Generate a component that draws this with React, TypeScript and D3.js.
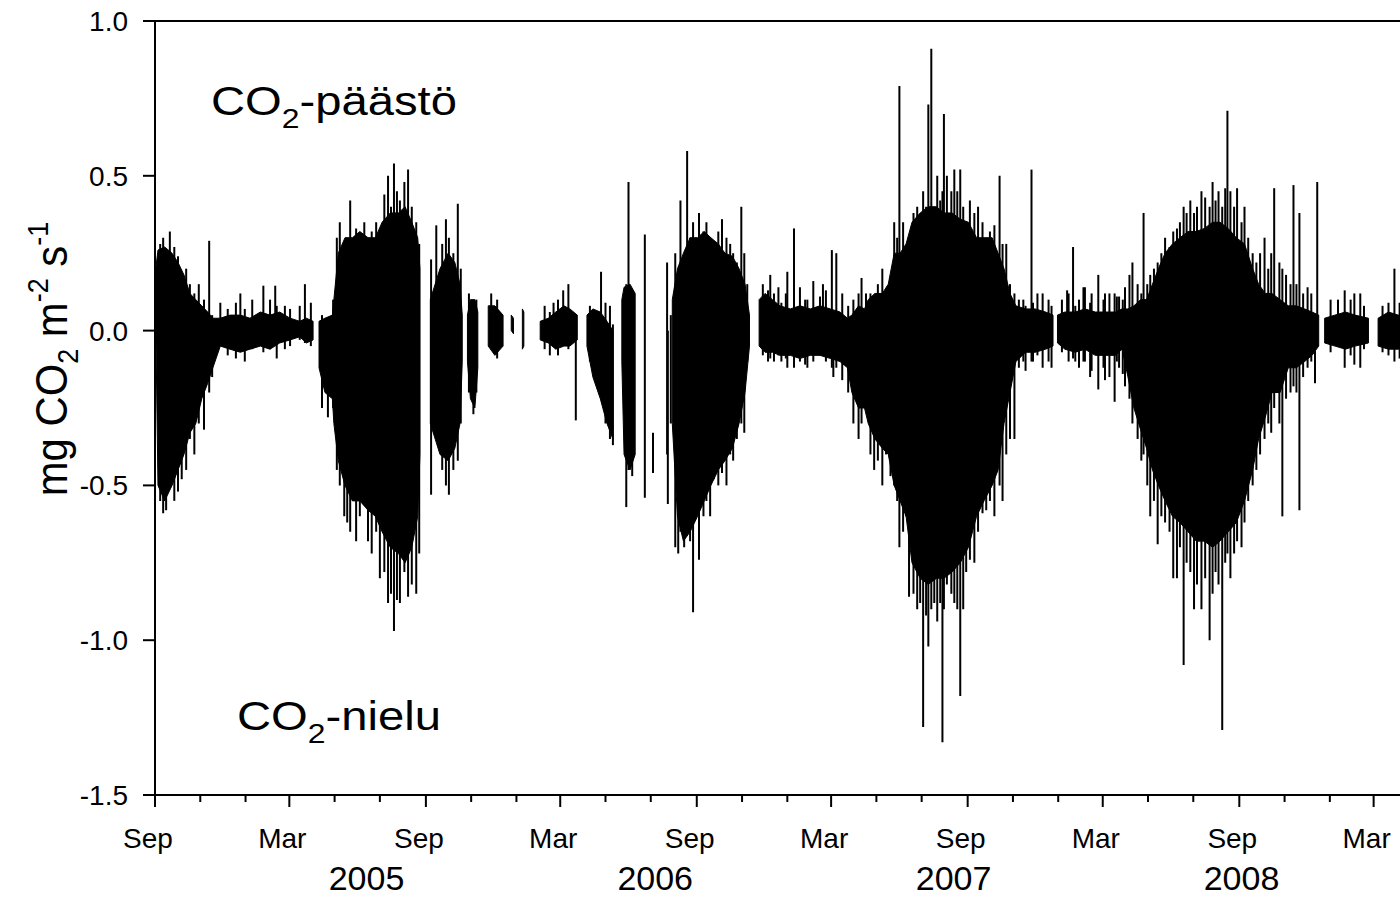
import React from "react";
import * as d3 from "d3";

// Time axis: days counted from 1 Sep 2004
const START = Date.UTC(2004, 8, 1);
const END = Date.UTC(2009, 3, 19);
const dayToDate = (d: number) => new Date(START + d * 86400000);

const yTicks = [1.0, 0.5, 0.0, -0.5, -1.0, -1.5];
const yTickLabels = ["1.0", "0.5", "0.0", "-0.5", "-1.0", "-1.5"];
const majorMonths = [2, 8];
const monthNames: Record<number, string> = { 2: "Mar", 8: "Sep" };
const yearLabels: [string, string][] = [
  ["2005", "2005-06-13"],
  ["2006", "2006-07-07"],
  ["2007", "2007-08-13"],
  ["2008", "2008-09-04"],
];

// Dense core envelope of the half-hourly CO2 flux: [day, high, low]; null = data gap
type Pt = [number, number, number] | null;
const core2004: Pt[] = [
  [1, 0.2, 0.03], [4, 0.26, -0.5], [13, 0.27, -0.55], [23, 0.25, -0.5], [31, 0.22, -0.45],
  [39, 0.18, -0.4], [47, 0.12, -0.33], [55, 0.1, -0.3], [63, 0.08, -0.22], [71, 0.06, -0.17],
  [78, 0.04, -0.12], [88, 0.04, -0.05], [101, 0.05, -0.06], [115, 0.05, -0.07], [128, 0.04, -0.06],
  [142, 0.06, -0.05], [155, 0.05, -0.06], [168, 0.06, -0.04], [182, 0.04, -0.03], [195, 0.03, -0.02],
  [204, 0.04, -0.04], [213, 0.03, -0.03], null,
];
const core2005: Pt[] = [
  [221, 0.03, -0.12], [229, 0.04, -0.2], [239, 0.05, -0.22], [241, 0.1, -0.3], [247, 0.25, -0.42],
  [256, 0.3, -0.5], [266, 0.3, -0.55], [276, 0.32, -0.55], [287, 0.3, -0.58], [297, 0.3, -0.6],
  [306, 0.35, -0.65], [317, 0.38, -0.7], [328, 0.38, -0.72], [337, 0.4, -0.75], [346, 0.35, -0.7],
  [354, 0.3, -0.6], [357, 0.2, -0.4], null,
  [371, 0.1, -0.3], [384, 0.2, -0.4], [395, 0.25, -0.42], [404, 0.22, -0.38], [411, 0.15, -0.3],
  [414, 0.05, -0.1], null,
  [421, 0.05, -0.1], [425, 0.1, -0.22], [431, 0.1, -0.25], [435, 0.06, -0.12], null,
  [449, 0.08, -0.05], [458, 0.08, -0.08], [469, 0.05, -0.05], null,
  [480, 0.05, 0.0], [483, 0.04, -0.01], null,
  [495, 0.07, -0.06], [497, 0.06, -0.05], null,
];
const core2006: Pt[] = [
  [519, 0.03, -0.03], [530, 0.04, -0.04], [540, 0.06, -0.06], [551, 0.08, -0.05], [559, 0.07, -0.05],
  [569, 0.05, -0.03], null,
  [582, 0.05, -0.05], [590, 0.07, -0.15], [600, 0.06, -0.22], [609, 0.03, -0.3], [617, 0.0, -0.35], null,
  [629, 0.1, -0.1], [632, 0.14, -0.4], [640, 0.15, -0.45], [647, 0.12, -0.4], null,
  [697, 0.1, -0.3], [704, 0.2, -0.6], [712, 0.25, -0.68], [721, 0.3, -0.65], [731, 0.3, -0.6],
  [740, 0.32, -0.55], [749, 0.3, -0.5], [759, 0.28, -0.45], [768, 0.25, -0.42], [778, 0.24, -0.38],
  [787, 0.2, -0.3], [795, 0.15, -0.2], [801, 0.05, -0.05], null,
];
const core2007: Pt[] = [
  [814, 0.1, -0.05], [822, 0.12, -0.07], [832, 0.1, -0.07], [842, 0.08, -0.08], [856, 0.07, -0.08],
  [869, 0.08, -0.09], [883, 0.07, -0.08], [896, 0.08, -0.08], [910, 0.07, -0.09], [923, 0.06, -0.1],
  [933, 0.04, -0.12], [939, 0.05, -0.2], [948, 0.08, -0.25], [956, 0.07, -0.25], [961, 0.1, -0.3],
  [970, 0.12, -0.35], [980, 0.12, -0.38], [988, 0.15, -0.4], [996, 0.25, -0.5], [1004, 0.25, -0.55],
  [1012, 0.28, -0.6], [1020, 0.35, -0.75], [1031, 0.38, -0.8], [1042, 0.4, -0.82], [1053, 0.4, -0.8],
  [1063, 0.38, -0.8], [1074, 0.38, -0.78], [1085, 0.36, -0.75], [1096, 0.35, -0.7], [1107, 0.3, -0.6],
  [1117, 0.3, -0.55], [1128, 0.3, -0.5], [1136, 0.25, -0.45], [1144, 0.2, -0.3], [1152, 0.12, -0.2],
  [1160, 0.08, -0.1], [1173, 0.07, -0.07], [1186, 0.07, -0.07], [1200, 0.06, -0.06], [1210, 0.05, -0.05],
  null,
];
const core2008: Pt[] = [
  [1216, 0.05, -0.04], [1226, 0.06, -0.06], [1240, 0.06, -0.07], [1253, 0.07, -0.06], [1267, 0.06, -0.08],
  [1280, 0.06, -0.08], [1294, 0.06, -0.08], [1303, 0.07, -0.06], [1311, 0.07, -0.15], [1319, 0.08, -0.25],
  [1328, 0.1, -0.32], [1336, 0.1, -0.38], [1344, 0.15, -0.45], [1352, 0.2, -0.5], [1361, 0.25, -0.55],
  [1371, 0.28, -0.6], [1381, 0.3, -0.62], [1392, 0.32, -0.65], [1403, 0.32, -0.68], [1414, 0.33, -0.68],
  [1425, 0.35, -0.7], [1435, 0.35, -0.68], [1446, 0.33, -0.65], [1457, 0.3, -0.62], [1468, 0.28, -0.55],
  [1479, 0.2, -0.45], [1487, 0.15, -0.35], [1496, 0.12, -0.28], [1505, 0.12, -0.2], [1516, 0.1, -0.2],
  [1527, 0.08, -0.12], [1538, 0.08, -0.12], [1549, 0.07, -0.1], [1559, 0.06, -0.08], [1568, 0.05, -0.05],
  null,
  [1576, 0.04, -0.04], [1590, 0.05, -0.05], [1604, 0.06, -0.06], [1617, 0.05, -0.05], [1635, 0.04, -0.04],
  null,
  [1648, 0.04, -0.05], [1662, 0.06, -0.06], [1675, 0.05, -0.06], [1685, 0.05, -0.05],
];

// Individual extreme half-hour values: [day, high, low]
const spikes2004: [number, number, number][] = [
  [7, 0.28, -0.55], [11, 0.3, -0.59], [15, 0.25, -0.58], [20, 0.32, -0.5], [26, 0.27, -0.55],
  [31, 0.24, -0.52], [36, 0.15, -0.48], [42, 0.2, -0.45], [47, 0.15, -0.35], [53, 0.12, -0.4],
  [59, 0.15, -0.3], [66, 0.1, -0.32], [73, 0.29, -0.2], [77, 0.05, -0.15],
  [88, 0.09, -0.04], [98, 0.07, -0.08], [109, 0.09, -0.09], [115, 0.12, -0.06], [121, 0.07, -0.1],
  [131, 0.1, -0.06], [146, 0.145, -0.07], [155, 0.1, -0.06], [162, 0.145, -0.05], [164, 0.08, -0.09],
  [175, 0.08, -0.06], [182, 0.07, -0.05], [195, 0.08, -0.03], [202, 0.15, -0.04], [210, 0.09, -0.05],
];
const spikes2005: [number, number, number][] = [
  [225, 0.05, -0.25], [233, 0.03, -0.28], [240, 0.1, -0.25], [245, 0.3, -0.45], [249, 0.35, -0.5],
  [255, 0.27, -0.6], [259, 0.3, -0.62], [263, 0.42, -0.65], [267, 0.3, -0.55], [271, 0.33, -0.68],
  [276, 0.28, -0.6], [282, 0.35, -0.52], [287, 0.3, -0.68], [292, 0.32, -0.72], [298, 0.35, -0.65],
  [303, 0.3, -0.8], [309, 0.44, -0.78], [314, 0.5, -0.88], [318, 0.4, -0.85], [322, 0.54, -0.97],
  [326, 0.45, -0.87], [330, 0.42, -0.88], [336, 0.48, -0.78], [341, 0.52, -0.86], [346, 0.4, -0.82],
  [352, 0.35, -0.85], [356, 0.28, -0.72],
  [372, 0.23, -0.53], [379, 0.34, -0.3], [387, 0.28, -0.45], [392, 0.36, -0.5], [396, 0.3, -0.53],
  [402, 0.25, -0.45], [408, 0.41, -0.42], [412, 0.2, -0.3],
  [423, 0.12, -0.2], [429, 0.08, -0.27], [433, 0.1, -0.2], [453, 0.12, -0.06], [461, 0.1, -0.09],
];
const spikes2006: [number, number, number][] = [
  [525, 0.08, -0.06], [532, 0.06, -0.08], [537, 0.09, -0.05],
  [543, 0.1, -0.08], [550, 0.13, -0.05], [557, 0.15, -0.06], [567, 0.05, -0.29],
  [586, 0.08, -0.1], [601, 0.19, -0.2], [607, 0.09, -0.3], [613, 0.08, -0.35], [617, 0.02, -0.37],
  [635, 0.15, -0.57], [638, 0.48, -0.45], [643, 0.13, -0.47],
  [660, 0.31, -0.54], [671, -0.33, -0.46], [690, 0.22, -0.4], [691, 0.0, -0.56], [695, 0.05, -0.3],
  [701, 0.25, -0.7], [705, 0.2, -0.72], [708, 0.42, -0.65], [713, 0.22, -0.7], [717, 0.58, -0.6],
  [721, 0.3, -0.68], [725, 0.35, -0.91], [729, 0.3, -0.6], [733, 0.38, -0.74], [739, 0.32, -0.6],
  [743, 0.35, -0.55], [748, 0.3, -0.6], [753, 0.28, -0.48], [759, 0.32, -0.5], [764, 0.36, -0.46],
  [770, 0.3, -0.5], [775, 0.28, -0.4], [779, 0.25, -0.42], [784, 0.22, -0.35], [790, 0.4, -0.3],
  [794, 0.25, -0.33], [798, 0.15, -0.1],
];
const spikes2007: [number, number, number][] = [
  [819, 0.15, -0.08], [826, 0.13, -0.1], [829, 0.18, -0.09], [834, 0.12, -0.1], [840, 0.14, -0.08],
  [844, 0.09, -0.1], [850, 0.12, -0.09], [852, 0.19, -0.12],
  [861, 0.33, -0.12], [869, 0.14, -0.1], [876, 0.1, -0.11], [879, 0.1, -0.12], [887, 0.16, -0.1],
  [896, 0.11, -0.08], [900, 0.15, -0.08], [904, 0.13, -0.1], [912, 0.26, -0.12], [914, 0.06, -0.15],
  [918, 0.25, -0.12], [926, 0.12, -0.16], [934, 0.08, -0.2],
  [941, 0.1, -0.3], [948, 0.12, -0.35], [952, 0.17, -0.3], [958, 0.12, -0.2], [964, 0.12, -0.4],
  [969, 0.1, -0.45], [974, 0.15, -0.42], [980, 0.2, -0.5], [985, 0.13, -0.4], [991, 0.17, -0.47],
  [996, 0.35, -0.5], [1000, 0.3, -0.55], [1003, 0.79, -0.7], [1008, 0.35, -0.65], [1012, 0.1, -0.6],
  [1016, 0.3, -0.86], [1022, 0.38, -0.85], [1027, 0.4, -0.9], [1031, 0.36, -0.88], [1035, 0.45, -1.28],
  [1039, 0.4, -0.92], [1042, 0.73, -1.02], [1046, 0.91, -0.9], [1050, 0.4, -0.88], [1054, 0.5, -0.94],
  [1058, 0.42, -0.88], [1061, 0.45, -1.33], [1063, 0.7, -0.9], [1067, 0.5, -0.82], [1073, 0.45, -0.85],
  [1077, 0.52, -0.88], [1081, 0.45, -0.9], [1085, 0.52, -1.18], [1089, 0.4, -0.9], [1093, 0.35, -0.78],
  [1098, 0.42, -0.74], [1104, 0.38, -0.75], [1109, 0.4, -0.65], [1115, 0.35, -0.59], [1120, 0.3, -0.58],
  [1125, 0.32, -0.55], [1131, 0.34, -0.6], [1138, 0.5, -0.5], [1142, 0.28, -0.55], [1147, 0.28, -0.4],
  [1152, 0.15, -0.35], [1158, 0.12, -0.35], [1164, 0.1, -0.12], [1170, 0.1, -0.1], [1173, 0.08, -0.13],
  [1181, 0.52, -0.1], [1183, 0.09, -0.1], [1189, 0.12, -0.08], [1196, 0.12, -0.12], [1204, 0.1, -0.1],
  [1208, 0.08, -0.12],
];
const spikes2008: [number, number, number][] = [
  [1222, 0.1, -0.07], [1229, 0.13, -0.06], [1231, 0.12, -0.1], [1237, 0.27, -0.09], [1240, 0.08, -0.1],
  [1245, 0.1, -0.12], [1251, 0.14, -0.1], [1253, 0.14, -0.1], [1260, 0.09, -0.15],
  [1262, 0.12, -0.13], [1271, 0.18, -0.19], [1278, 0.1, -0.12], [1280, 0.12, -0.16], [1286, 0.12, -0.15],
  [1293, 0.12, -0.23], [1296, 0.11, -0.1],
  [1299, 0.11, -0.12], [1304, 0.1, -0.14], [1307, 0.14, -0.18], [1313, 0.18, -0.22], [1317, 0.22, -0.3],
  [1324, 0.15, -0.35],
  [1329, 0.12, -0.42], [1332, 0.38, -0.4], [1337, 0.15, -0.5], [1341, 0.18, -0.6], [1346, 0.2, -0.55],
  [1351, 0.22, -0.69], [1356, 0.25, -0.6], [1361, 0.3, -0.62], [1367, 0.27, -0.65], [1372, 0.32, -0.8],
  [1377, 0.33, -0.8], [1381, 0.35, -0.7], [1386, 0.4, -1.08], [1390, 0.38, -0.75], [1395, 0.42, -0.78],
  [1400, 0.38, -0.9], [1404, 0.4, -0.82], [1410, 0.45, -0.9], [1415, 0.43, -0.8], [1421, 0.4, -1.0],
  [1425, 0.48, -0.85], [1429, 0.42, -0.78], [1433, 0.45, -0.82], [1438, 0.4, -1.29], [1442, 0.46, -0.75],
  [1445, 0.71, -0.72], [1449, 0.45, -0.8], [1454, 0.4, -0.72], [1458, 0.46, -0.68], [1464, 0.35, -0.7],
  [1468, 0.4, -0.62], [1473, 0.3, -0.55], [1479, 0.25, -0.5], [1484, 0.22, -0.45], [1489, 0.25, -0.4],
  [1495, 0.3, -0.35], [1500, 0.2, -0.3], [1504, 0.25, -0.33], [1508, 0.46, -0.25], [1515, 0.22, -0.3],
  [1519, 0.2, -0.6], [1524, 0.18, -0.22], [1530, 0.15, -0.2], [1534, 0.47, -0.18], [1538, 0.15, -0.2],
  [1542, 0.38, -0.58], [1547, 0.12, -0.15], [1553, 0.14, -0.12], [1558, 0.12, -0.1], [1563, 0.05, -0.17],
  [1566, 0.48, -0.05],
  [1584, 0.1, -0.07], [1594, 0.1, -0.05], [1603, 0.13, -0.12], [1611, 0.1, -0.08], [1616, 0.12, -0.11],
  [1624, 0.12, -0.12], [1629, 0.08, -0.06],
  [1654, 0.08, -0.07], [1662, 0.09, -0.08], [1670, 0.2, -0.1], [1677, 0.09, -0.09],
];

const FONT = "'Liberation Sans', Arial, Helvetica, sans-serif";

export default function App() {
  const W = 1400;
  const H = 902;
  const x = d3.scaleUtc().domain([new Date(START), new Date(END)]).range([155, 1410]);
  const y = d3.scaleLinear().domain([-1.5, 1.0]).range([795, 21]);

  const core = [...core2004, ...core2005, ...core2006, ...core2007, ...core2008];
  const spikes = [...spikes2004, ...spikes2005, ...spikes2006, ...spikes2007, ...spikes2008];

  const area = d3
    .area<Pt>()
    .defined((d) => d !== null)
    .x((d) => x(dayToDate((d as [number, number, number])[0])))
    .y0((d) => y((d as [number, number, number])[2]))
    .y1((d) => y((d as [number, number, number])[1]));

  const xTicks = d3.utcMonth.every(2)!.range(new Date(START), new Date(END));
  const x0 = 155;
  const yTop = y(1.0);
  const yBot = y(-1.5);

  return (
    <svg
      width={W}
      height={H}
      style={{ position: "absolute", left: 0, top: 0, background: "#fff" }}
      fontFamily={FONT}
    >
      <rect x={0} y={0} width={W} height={H} fill="#fff" />
      {/* data */}
      <path d={area(core) || ""} fill="#000" stroke="#000" strokeWidth={1} />
      {spikes.map((s, i) => (
        <line
          key={i}
          x1={x(dayToDate(s[0]))}
          x2={x(dayToDate(s[0]))}
          y1={y(s[1])}
          y2={y(s[2])}
          stroke="#000"
          strokeWidth={2}
        />
      ))}

      {/* frame */}
      <line x1={x0} x2={W} y1={yTop} y2={yTop} stroke="#000" strokeWidth={2} />
      <line x1={x0} x2={W} y1={yBot} y2={yBot} stroke="#000" strokeWidth={2} />
      <line x1={x0} x2={x0} y1={yTop} y2={yBot} stroke="#000" strokeWidth={2} />

      {/* y axis */}
      {yTicks.map((t, i) => (
        <g key={t}>
          <line x1={x0 - 12} x2={x0} y1={y(t)} y2={y(t)} stroke="#000" strokeWidth={2} />
          <text x={128} y={y(t) + 10} textAnchor="end" fontSize={28}>
            {yTickLabels[i]}
          </text>
        </g>
      ))}

      {/* x axis */}
      {xTicks.map((t) => {
        const m = t.getUTCMonth();
        const major = majorMonths.includes(m);
        const xx = x(t);
        return (
          <g key={t.getTime()}>
            <line x1={xx} x2={xx} y1={yBot} y2={yBot + (major ? 12 : 7)} stroke="#000" strokeWidth={2} />
            {major && (
              <text x={xx - 7} y={848} textAnchor="middle" fontSize={28}>
                {monthNames[m]}
              </text>
            )}
          </g>
        );
      })}
      {yearLabels.map(([lab, d]) => (
        <text key={lab} x={x(new Date(d + "T00:00:00Z"))} y={890} textAnchor="middle" fontSize={34}>
          {lab}
        </text>
      ))}

      {/* y title */}
      <text
        transform="translate(67,359) rotate(-90) scale(0.93,1)"
        textAnchor="middle"
        fontSize={45}
      >
        mg CO
        <tspan dy={11} fontSize={29}>2</tspan>
        <tspan dy={-11}> m</tspan>
        <tspan dy={-19} fontSize={29}>-2</tspan>
        <tspan dy={19}> s</tspan>
        <tspan dy={-19} fontSize={29}>-1</tspan>
      </text>

      {/* annotations */}
      <text transform="translate(211,115) scale(1.18,1)" fontSize={40}>
        CO
        <tspan dy={13} fontSize={27}>2</tspan>
        <tspan dy={-13}>-päästö</tspan>
      </text>
      <text transform="translate(237,730) scale(1.18,1)" fontSize={40}>
        CO
        <tspan dy={13} fontSize={27}>2</tspan>
        <tspan dy={-13}>-nielu</tspan>
      </text>
    </svg>
  );
}
